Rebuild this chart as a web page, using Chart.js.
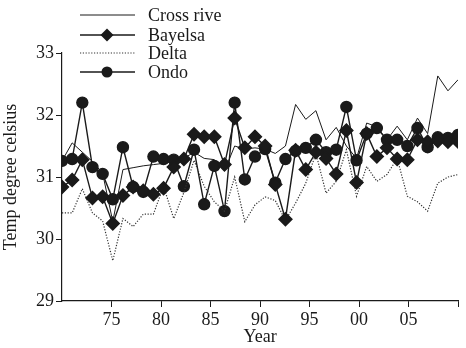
<!DOCTYPE html>
<html>
<head>
<meta charset="utf-8">
<script src="https://cdn.jsdelivr.net/npm/chart.js@4.4.0/dist/chart.umd.min.js"></script>
<style>
  html, body { margin: 0; padding: 0; background: #fff; }
</style>
</head>
<body>
<canvas id="chart" width="466" height="348"></canvas>
<script>
// yearly mean temperatures
const years = [1970, 1971, 1972, 1973, 1974, 1975, 1976, 1977, 1978, 1979,
               1980, 1981, 1982, 1983, 1984, 1985, 1986, 1987, 1988, 1989,
               1990, 1991, 1992, 1993, 1994, 1995, 1996, 1997, 1998, 1999,
               2000, 2001, 2002, 2003, 2004, 2005, 2006, 2007, 2008, 2009];

const crossRive = [31.26, 31.55, 31.40, 31.25, 31.06, 30.28, 31.12, 31.15, 31.18, 31.20,
                   31.22, 31.25, 31.30, 31.40, 31.30, 31.28, 31.10, 31.50, 31.45, 31.47,
                   31.45, 31.38, 31.50, 32.17, 31.93, 32.07, 31.60, 31.80, 31.50, 31.30,
                   31.87, 31.81, 31.60, 31.82, 31.60, 31.95, 31.70, 32.63, 32.39, 32.57];

const bayelsa = [30.84, 30.95, 31.28, 30.66, 30.68, 30.25, 30.70, 30.84, 30.78, 30.72,
                 30.82, 31.16, 31.29, 31.69, 31.65, 31.65, 31.20, 31.95, 31.47, 31.65,
                 31.50, 30.88, 30.32, 31.43, 31.12, 31.40, 31.30, 31.05, 31.75, 30.91,
                 31.70, 31.33, 31.47, 31.29, 31.28, 31.60, 31.57, 31.58, 31.57, 31.57];

const delta = [30.42, 30.42, 30.81, 30.42, 30.29, 29.65, 30.33, 30.20, 30.40, 30.40,
               30.85, 30.33, 30.75, 31.27, 30.85, 30.60, 30.45, 31.00, 30.28, 30.55,
               30.68, 30.62, 30.30, 30.58, 30.90, 31.38, 30.74, 30.93, 31.44, 30.69,
               31.17, 30.93, 31.04, 31.30, 30.69, 30.60, 30.45, 30.90, 31.00, 31.04];

const ondo = [31.26, 31.29, 32.20, 31.16, 31.05, 30.64, 31.48, 30.84, 30.76, 31.33,
              31.29, 31.28, 30.85, 31.44, 30.56, 31.18, 30.45, 32.20, 30.96, 31.33,
              31.45, 30.91, 31.29, 31.42, 31.47, 31.60, 31.40, 31.44, 32.13, 31.27,
              31.70, 31.79, 31.60, 31.60, 31.50, 31.79, 31.48, 31.64, 31.63, 31.68];

const yTicks = [29, 30, 31, 32, 33];
const xTickYears = [1975, 1980, 1985, 1990, 1995, 2000, 2005, 2010];

const FONT = "'Liberation Serif', 'Times New Roman', serif";
const INK = "#1a1a1a";

function toPoints(vals) {
  return years.map((yr, i) => ({ x: yr, y: vals[i] }));
}

// legend in the top-left, line sample with the marker in its middle
const legendPlugin = {
  id: "lineLegend",
  afterDraw(chart) {
    const ctx = chart.ctx;
    const rows = [15, 35, 53, 72];
    chart.data.datasets.forEach((ds, i) => {
      const y = rows[i];
      ctx.save();
      ctx.strokeStyle = ds.borderColor;
      ctx.lineWidth = ds.borderWidth;
      ctx.setLineDash(ds.borderDash || []);
      ctx.beginPath();
      ctx.moveTo(80, y);
      ctx.lineTo(135, y);
      ctx.stroke();
      ctx.setLineDash([]);
      ctx.fillStyle = INK;
      if (ds.pointStyle === "rectRot") {
        const r = ds.pointRadius;
        ctx.beginPath();
        ctx.moveTo(107, y - r); ctx.lineTo(107 + r, y);
        ctx.lineTo(107, y + r); ctx.lineTo(107 - r, y);
        ctx.closePath();
        ctx.fill();
      } else if (ds.pointRadius > 0) {
        ctx.beginPath();
        ctx.arc(107, y, ds.pointRadius, 0, Math.PI * 2);
        ctx.fill();
      }
      ctx.font = "18px " + FONT;
      ctx.textBaseline = "middle";
      ctx.fillText(ds.label, 148, y + 1);
      ctx.restore();
    });
  }
};

new Chart(document.getElementById("chart"), {
  type: "line",
  data: {
    datasets: [
      { label: "Cross rive", data: toPoints(crossRive), borderColor: INK, borderWidth: 1,
        pointRadius: 0, pointStyle: false },
      { label: "Bayelsa", data: toPoints(bayelsa), borderColor: INK, borderWidth: 1.4,
        pointStyle: "rectRot", pointRadius: 6.5, pointBackgroundColor: INK, pointBorderColor: INK },
      { label: "Delta", data: toPoints(delta), borderColor: "#333", borderWidth: 1.2,
        borderDash: [1.2, 1.6], pointRadius: 0, pointStyle: false },
      { label: "Ondo", data: toPoints(ondo), borderColor: INK, borderWidth: 1.4,
        pointStyle: "circle", pointRadius: 5.5, pointBackgroundColor: INK, pointBorderColor: INK }
    ]
  },
  options: {
    responsive: false,
    animation: false,
    layout: { padding: { left: 0, top: 53, right: 6, bottom: 0 } },
    plugins: { legend: { display: false }, tooltip: { enabled: false } },
    elements: { line: { tension: 0 } },
    scales: {
      // data axis: the 40 yearly points span the whole plot width
      x: { type: "linear", min: 1970, max: 2009, display: false },
      // axis that carries the printed year ticks
      xt: {
        type: "linear", position: "bottom", min: 1970, max: 2010,
        afterBuildTicks: s => { s.ticks = xTickYears.map(v => ({ value: v })); },
        afterFit: s => { s.height = 47; },
        ticks: {
          color: INK, font: { family: FONT, size: 18 }, padding: 2, maxRotation: 0, autoSkip: false,
          callback: v => v === 2010 ? "" : String(v % 100).padStart(2, "0")
        },
        grid: { drawOnChartArea: false, drawTicks: true, tickLength: 6, color: INK },
        border: { display: true, color: INK, width: 1.2 },
        title: { display: true, text: "Year", color: INK, font: { family: FONT, size: 18 }, padding: { top: -4, bottom: 0 } }
      },
      y: {
        min: 29, max: 33,
        afterBuildTicks: s => { s.ticks = yTicks.map(v => ({ value: v })); },
        afterFit: s => { s.width = 62; },
        ticks: { color: INK, font: { family: FONT, size: 18 }, padding: 2 },
        grid: { drawOnChartArea: false, drawTicks: true, tickLength: 6, color: INK },
        border: { display: true, color: INK, width: 1.2 },
        title: { display: true, text: "Temp degree celsius", color: INK, font: { family: FONT, size: 18 }, padding: { top: 0, bottom: 0 } }
      }
    }
  },
  plugins: [legendPlugin]
});
</script>
</body>
</html>
